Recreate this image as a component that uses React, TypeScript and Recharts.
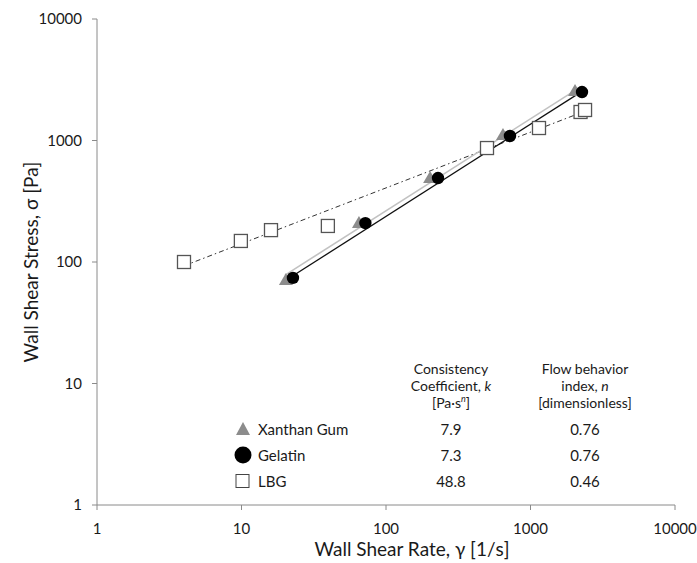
import { Label, Scatter, ScatterChart, XAxis, YAxis } from "recharts";

const xanthanX = [20.3, 65, 202, 645, 2033];
const xanthanY = [71, 209, 491, 1110, 2555];
const gelatinX = [22.7, 72, 229, 721, 2272];
const gelatinY = [74, 209, 491, 1089, 2506];
const lbgX = [4, 9.9, 16, 39.6, 500, 1145, 2220, 2385];
const lbgY = [100, 149, 183, 198, 867, 1267, 1717, 1783];

// power-law fit line end points
const xanthanFitX = [20, 2050];
const xanthanFitY = [78, 2600];
const gelatinFitX = [22.7, 2300];
const gelatinFitY = [77, 2560];
const lbgFitX = [4, 2400];
const lbgFitY = [93, 1750];

const logTicks = [1, 10, 100, 1000, 10000];

const seriesNames = ["Xanthan Gum", "Gelatin", "LBG"];
const kValues = ["7.9", "7.3", "48.8"];
const nValues = ["0.76", "0.76", "0.46"];

const FONT = "Lato, 'Open Sans', sans-serif";
const AXIS = "#8a8a8a";
const TEXT = "#1a1a1a";

const zip = (xs: number[], ys: number[]) => xs.map((x, i) => ({ x, y: ys[i] }));

const Triangle = ({ cx, cy }: any) => (
  <path d={`M${cx},${cy - 7} L${cx + 7},${cy + 5} L${cx - 7},${cy + 5} Z`} fill="#8c8c8c" />
);
const Dot = ({ cx, cy }: any) => <circle cx={cx} cy={cy} r={6.2} fill="#000" />;
const Box = ({ cx, cy }: any) => (
  <rect x={cx - 6.5} y={cy - 6.5} width={13} height={13} fill="#fff" stroke="#555" strokeWidth={1.3} />
);
const NoShape = () => null;

const legendMarks = [
  <svg width={18} height={16} key="t">
    <path d="M9,1 L16,14 L2,14 Z" fill="#8c8c8c" />
  </svg>,
  <svg width={18} height={18} key="c">
    <circle cx={9} cy={9} r={8.5} fill="#000" />
  </svg>,
  <svg width={18} height={16} key="s">
    <rect x={2} y={1.5} width={13} height={13} fill="#fff" stroke="#444" strokeWidth={1} />
  </svg>,
];

const YTitle = ({ viewBox }: any) => {
  const cy = viewBox.y + viewBox.height / 2;
  return (
    <text x={30} y={cy} transform={`rotate(-90 30 ${cy})`} textAnchor="middle" dominantBaseline="central" fontSize={19} fill={TEXT}>
      Wall Shear Stress, σ [Pa]
    </text>
  );
};

const XTitle = ({ viewBox }: any) => (
  <text x={viewBox.x + viewBox.width / 2 + 26} y={556} textAnchor="middle" fontSize={19} fill={TEXT}>
    Wall Shear Rate, γ [1/s]
  </text>
);

const rowY = [429, 455, 481];

function FitTable() {
  const header = (x: number, content: any) => (
    <div
      style={{
        position: "absolute",
        left: x - 80,
        top: 360,
        width: 160,
        textAlign: "center",
        lineHeight: "17px",
        fontSize: 14,
        whiteSpace: "nowrap",
      }}
    >
      {content}
    </div>
  );
  const cell = (x: number, y: number, content: any, key: string) => (
    <div
      key={key}
      style={{
        position: "absolute",
        left: x - 80,
        top: y - 8,
        width: 160,
        textAlign: "center",
        lineHeight: "16px",
        whiteSpace: "nowrap",
      }}
    >
      {content}
    </div>
  );
  return (
    <div style={{ position: "absolute", left: 0, top: 0, fontFamily: FONT, fontSize: 15, color: TEXT, pointerEvents: "none" }}>
      {header(
        451,
        <>
          Consistency
          <br />
          Coefficient, <i>k</i>
          <br />
          [Pa·s<sup style={{ fontSize: 9, lineHeight: 0 }}><i>n</i></sup>]
        </>
      )}
      {header(
        585,
        <>
          Flow behavior
          <br />
          index, <i>n</i>
          <br />
          [dimensionless]
        </>
      )}
      {seriesNames.map((name, i) => (
        <div key={name}>
          <div
            style={{
              position: "absolute",
              left: 234,
              top: rowY[i] - 9,
              height: 18,
              display: "flex",
              alignItems: "center",
              whiteSpace: "nowrap",
            }}
          >
            {legendMarks[i]}
            <span style={{ marginLeft: 6, lineHeight: "18px" }}>{name}</span>
          </div>
          {cell(451, rowY[i], kValues[i], "k" + i)}
          {cell(585, rowY[i], nValues[i], "n" + i)}
        </div>
      ))}
    </div>
  );
}

export default function App() {
  return (
    <div style={{ position: "absolute", left: 0, top: 0, width: 697, height: 563, background: "#fff" }}>
      <ScatterChart width={697} height={563} margin={{ top: 19, right: 22, bottom: 0, left: 0 }} style={{ fontFamily: FONT }}>
        <XAxis
          type="number"
          dataKey="x"
          scale="log"
          domain={[1, 10000]}
          ticks={logTicks}
          allowDataOverflow
          height={58}
          stroke={AXIS}
          tickSize={5}
          tickMargin={13}
          tick={{ fill: TEXT, fontSize: 15 }}
          tickFormatter={(v: number) => String(v)}
        >
          <Label content={<XTitle />} />
        </XAxis>
        <YAxis
          type="number"
          dataKey="y"
          scale="log"
          domain={[1, 10000]}
          ticks={logTicks}
          allowDataOverflow
          width={97}
          stroke={AXIS}
          tickSize={5}
          tickMargin={10}
          tick={{ fill: TEXT, fontSize: 15 }}
          tickFormatter={(v: number) => String(v)}
        >
          <Label content={<YTitle />} />
        </YAxis>
        <Scatter
          data={zip(lbgFitX, lbgFitY)}
          line={{ stroke: "#333", strokeWidth: 1, strokeDasharray: "5 3 1.5 3" }}
          shape={NoShape}
          isAnimationActive={false}
        />
        <Scatter
          data={zip(xanthanFitX, xanthanFitY)}
          line={{ stroke: "#c2c2c2", strokeWidth: 1.6 }}
          shape={NoShape}
          isAnimationActive={false}
        />
        <Scatter
          data={zip(gelatinFitX, gelatinFitY)}
          line={{ stroke: "#111", strokeWidth: 1.3 }}
          shape={NoShape}
          isAnimationActive={false}
        />
        <Scatter name="LBG" data={zip(lbgX, lbgY)} shape={Box} isAnimationActive={false} />
        <Scatter name="Xanthan Gum" data={zip(xanthanX, xanthanY)} shape={Triangle} isAnimationActive={false} />
        <Scatter name="Gelatin" data={zip(gelatinX, gelatinY)} shape={Dot} isAnimationActive={false} />
      </ScatterChart>
      <FitTable />
    </div>
  );
}
